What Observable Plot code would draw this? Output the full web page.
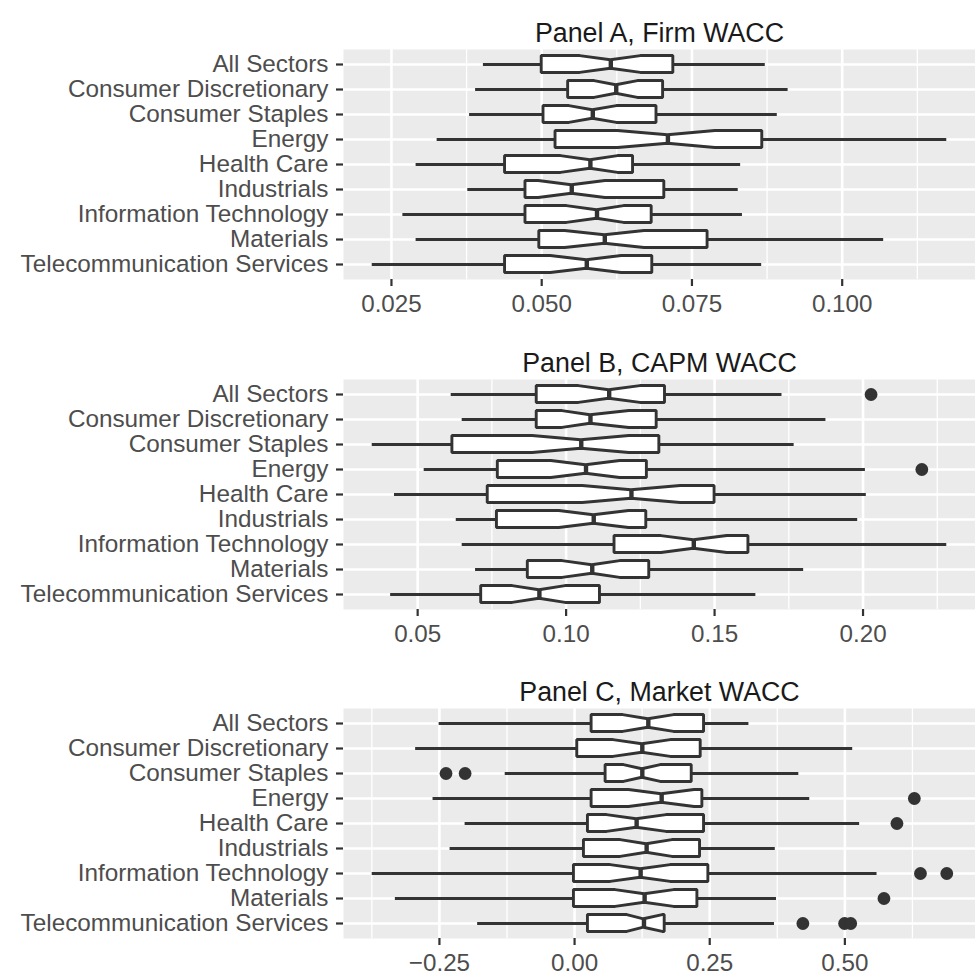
<!DOCTYPE html>
<html><head><meta charset="utf-8">
<script src="https://cdn.jsdelivr.net/npm/d3@7"></script>
<script src="https://cdn.jsdelivr.net/npm/@observablehq/plot@0.6"></script>
<style>
html,body{margin:0;padding:0;background:#fff;overflow:hidden}
svg{display:block}
</style></head><body><div id="chart"></div>
<script>
const sectors = ["All Sectors","Consumer Discretionary","Consumer Staples","Energy","Health Care","Industrials","Information Technology","Materials","Telecommunication Services"];

// Panel A, Firm WACC
const aTitle = "Panel A, Firm WACC";
const aWhiskerLo = [0.0403, 0.0390, 0.0380, 0.0326, 0.0291, 0.0377, 0.0269, 0.0291, 0.0218];
const aQ1        = [0.0500, 0.0544, 0.0503, 0.0523, 0.0439, 0.0473, 0.0473, 0.0496, 0.0439];
const aNotchLo   = [0.0564, 0.0588, 0.0546, 0.0627, 0.0532, 0.0495, 0.0542, 0.0539, 0.0515];
const aMedian    = [0.0615, 0.0624, 0.0585, 0.0710, 0.0581, 0.0550, 0.0592, 0.0605, 0.0575];
const aNotchHi   = [0.0665, 0.0660, 0.0625, 0.0789, 0.0627, 0.0606, 0.0637, 0.0671, 0.0633];
const aQ3        = [0.0719, 0.0702, 0.0691, 0.0867, 0.0652, 0.0704, 0.0683, 0.0776, 0.0684];
const aWhiskerHi = [0.0872, 0.0910, 0.0892, 0.1174, 0.0831, 0.0827, 0.0834, 0.1069, 0.0866];
const aOutSector = [];
const aOutValue  = [];
const aTicks      = [0.025, 0.05, 0.075, 0.1];
const aTickLabels = ["0.025", "0.050", "0.075", "0.100"];
const aMinor      = [0.0375, 0.0625, 0.0875, 0.1125];

// Panel B, CAPM WACC
const bTitle = "Panel B, CAPM WACC";
const bWhiskerLo = [0.0613, 0.0650, 0.0347, 0.0522, 0.0422, 0.0630, 0.0650, 0.0695, 0.0409];
const bQ1        = [0.0901, 0.0901, 0.0617, 0.0770, 0.0736, 0.0767, 0.1163, 0.0871, 0.0714];
const bNotchLo   = [0.1043, 0.0988, 0.0887, 0.0950, 0.1056, 0.0977, 0.1321, 0.0988, 0.0820];
const bMedian    = [0.1145, 0.1082, 0.1051, 0.1067, 0.1220, 0.1093, 0.1430, 0.1088, 0.0910];
const bNotchHi   = [0.1250, 0.1213, 0.1213, 0.1182, 0.1386, 0.1212, 0.1543, 0.1182, 0.0998];
const bQ3        = [0.1333, 0.1305, 0.1314, 0.1272, 0.1500, 0.1270, 0.1614, 0.1280, 0.1114];
const bWhiskerHi = [0.1727, 0.1875, 0.1768, 0.2008, 0.2011, 0.1982, 0.2282, 0.1800, 0.1639];
const bOutSector = [0, 3];
const bOutValue  = [0.2027, 0.2198];
const bTicks      = [0.05, 0.10, 0.15, 0.20];
const bTickLabels = ["0.05", "0.10", "0.15", "0.20"];
const bMinor      = [0.075, 0.125, 0.175, 0.225];

// Panel C, Market WACC
const cTitle = "Panel C, Market WACC";
const cWhiskerLo = [-0.2505, -0.2940, -0.1283, -0.2618, -0.2025, -0.2303, -0.3743, -0.3315, -0.1793];
const cQ1        = [0.0315, 0.0050, 0.0574, 0.0315, 0.0247, 0.0173, -0.0012, -0.0012, 0.0247];
const cNotchLo   = [0.0900, 0.0720, 0.0914, 0.1006, 0.0600, 0.0852, 0.0667, 0.0759, 0.0975];
const cMedian    = [0.1364, 0.1253, 0.1253, 0.1611, 0.1148, 0.1333, 0.1222, 0.1296, 0.1284];
const cNotchHi   = [0.1840, 0.1780, 0.1593, 0.2220, 0.1700, 0.1809, 0.1778, 0.1840, 0.1630];
const cQ3        = [0.2395, 0.2333, 0.2167, 0.2364, 0.2395, 0.2321, 0.2475, 0.2272, 0.1667];
const cWhiskerHi = [0.3225, 0.5145, 0.4148, 0.4350, 0.5273, 0.3713, 0.5595, 0.3735, 0.3698];
const cOutSector = [2, 2, 3, 4, 6, 6, 7, 8, 8, 8];
const cOutValue  = [-0.2378, -0.2025, 0.6285, 0.5963, 0.6398, 0.6885, 0.5723, 0.4223, 0.4995, 0.5108];
const cTicks      = [-0.25, 0, 0.25, 0.5];
const cTickLabels = ["\u22120.25", "0.00", "0.25", "0.50"];
const cMinor      = [-0.375, -0.125, 0.125, 0.375, 0.625];

const FONT = "'Liberation Sans', Arial, Helvetica, sans-serif";
const INK = "#333333";
const HALF = 0.3375;   // half box height in band units
const NOTCH = 0.5;     // notch width ratio

function panel(p, height) {
  const n = sectors.length;
  const rows = sectors.map((s, i) => ({
    i, wlo: p.wlo[i], q1: p.q1[i], nlo: p.nlo[i], med: p.med[i],
    nhi: p.nhi[i], q3: p.q3[i], whi: p.whi[i]
  }));
  const shape = rows.flatMap(r => [
    {i: r.i, x: r.q1, k: 1}, {i: r.i, x: r.nlo, k: 1}, {i: r.i, x: r.med, k: NOTCH},
    {i: r.i, x: r.nhi, k: 1}, {i: r.i, x: r.q3, k: 1}
  ]);
  const outs = p.outS.map((s, j) => ({i: s, v: p.outV[j]}));
  const all = [...p.wlo, ...p.whi, ...p.outV];
  const [lo, hi] = d3.extent(all);
  const pad = (hi - lo) * 0.05;
  const labelMap = new Map(p.ticks.map((t, j) => [t, p.labels[j]]));
  const idx = d3.range(n);
  const plotH = 230;
  return Plot.plot({
    width: 975, height,
    marginLeft: 343, marginRight: 0, marginTop: 49, marginBottom: height - 49 - plotH,
    x: {domain: [lo - pad, hi + pad], label: null},
    y: {domain: [-0.6, n - 1 + 0.6], reverse: true, label: null},
    style: {fontFamily: FONT, background: "white", overflow: "visible"},
    marks: [
      Plot.frame({fill: "#EBEBEB", stroke: "none"}),
      Plot.ruleX(p.minor, {stroke: "white", strokeWidth: 1.3}),
      Plot.ruleX(p.ticks, {stroke: "white", strokeWidth: 2.6}),
      Plot.ruleY(idx, {stroke: "white", strokeWidth: 2.6}),
      Plot.ruleY(rows, {y: "i", x1: "wlo", x2: "q1", stroke: INK, strokeWidth: 2.9}),
      Plot.ruleY(rows, {y: "i", x1: "q3", x2: "whi", stroke: INK, strokeWidth: 2.9}),
      Plot.areaY(shape, {x: "x", y1: d => d.i - HALF * d.k, y2: d => d.i + HALF * d.k, z: "i",
        fill: "white", stroke: INK, strokeWidth: 2.9, strokeLinejoin: "miter", curve: "linear"}),
      Plot.ruleX(rows, {x: "med", y1: d => d.i - HALF * NOTCH, y2: d => d.i + HALF * NOTCH,
        stroke: INK, strokeWidth: 4.4}),
      Plot.dot(outs, {x: "v", y: "i", r: 6.4, fill: INK, stroke: "none"}),
      Plot.axisX(p.ticks, {tickFormat: t => labelMap.get(t), tickSize: 7, tickPadding: 8,
        fontSize: 24.2, fill: "#4d4d4d", stroke: INK, strokeWidth: 2.2, label: null}),
      Plot.axisY(idx, {tickFormat: i => sectors[i], tickSize: 7, tickPadding: 8,
        fontSize: 24.3, fill: "#4d4d4d", stroke: INK, strokeWidth: 2.2, label: null}),
      Plot.text([p.title], {frameAnchor: "top", dy: -27, fontSize: 26.8, fill: "#1a1a1a"})
    ]
  });
}

const chart = document.getElementById("chart");
chart.append(panel({title: aTitle, wlo: aWhiskerLo, q1: aQ1, nlo: aNotchLo, med: aMedian, nhi: aNotchHi,
  q3: aQ3, whi: aWhiskerHi, outS: aOutSector, outV: aOutValue, ticks: aTicks, labels: aTickLabels, minor: aMinor}, 330));
chart.append(panel({title: bTitle, wlo: bWhiskerLo, q1: bQ1, nlo: bNotchLo, med: bMedian, nhi: bNotchHi,
  q3: bQ3, whi: bWhiskerHi, outS: bOutSector, outV: bOutValue, ticks: bTicks, labels: bTickLabels, minor: bMinor}, 329));
chart.append(panel({title: cTitle, wlo: cWhiskerLo, q1: cQ1, nlo: cNotchLo, med: cMedian, nhi: cNotchHi,
  q3: cQ3, whi: cWhiskerHi, outS: cOutSector, outV: cOutValue, ticks: cTicks, labels: cTickLabels, minor: cMinor}, 316));
</script>
</body></html>
